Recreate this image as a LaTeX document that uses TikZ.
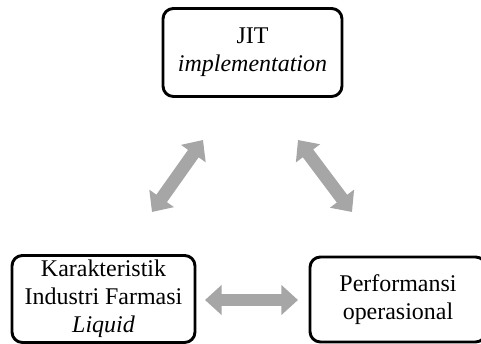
\documentclass[tikz,border=0pt]{standalone}
\usepackage{fontspec}
\setmainfont{Liberation Serif}
\usepackage{tikz}
\usetikzlibrary{arrows.meta,calc}

\tikzset{
  blok/.style={draw=black, line width=1.4pt, rounded corners=5pt, fill=white,
    align=center, inner sep=2pt, font=\fontsize{11.5}{13.5}\selectfont},
  panah/.style={draw=black!35, line width=6.2pt,
    {Triangle[width=14pt,length=8pt]}-{Triangle[width=14pt,length=8pt]}},
}

\begin{document}
\begin{tikzpicture}[x=0.48pt, y=-0.48pt, line join=round]

  %--- Frame (reference size, 1 unit = 1 px) --------------------------------
  \useasboundingbox (0,0) rectangle (481,344);
  \clip (0,0) rectangle (481,344);

  %--- Boxes ----------------------------------------------------------------
  \node[blok, minimum width=179*0.48pt, minimum height=88*0.48pt]
        (jit) at (252.5, 52.5) {JIT\\\textit{implementation}};
  \node[blok, minimum width=183*0.48pt, minimum height=87*0.48pt]
        (kar) at (103.5, 299) {Karakteristik\\Industri Farmasi\\\textit{Liquid}};
  \node[blok, minimum width=176*0.48pt, minimum height=85*0.48pt]
        (per) at (398, 299.5) {Performansi\\operasional};

  %--- Arrow ends -----------------------------------------------------------
  \coordinate (kiriA) at (152,212);
  \coordinate (kiriB) at (203,140);
  \coordinate (kananA) at (298,140);
  \coordinate (kananB) at (352,212);
  \coordinate (bawahA) at (205,300);
  \coordinate (bawahB) at (298,300);

  %--- Double arrows --------------------------------------------------------
  \draw[panah] (kiriA) -- (kiriB);     % kar <-> jit
  \draw[panah] (kananA) -- (kananB);   % jit <-> per
  \draw[panah] (bawahA) -- (bawahB);   % kar <-> per

\end{tikzpicture}
\end{document}
